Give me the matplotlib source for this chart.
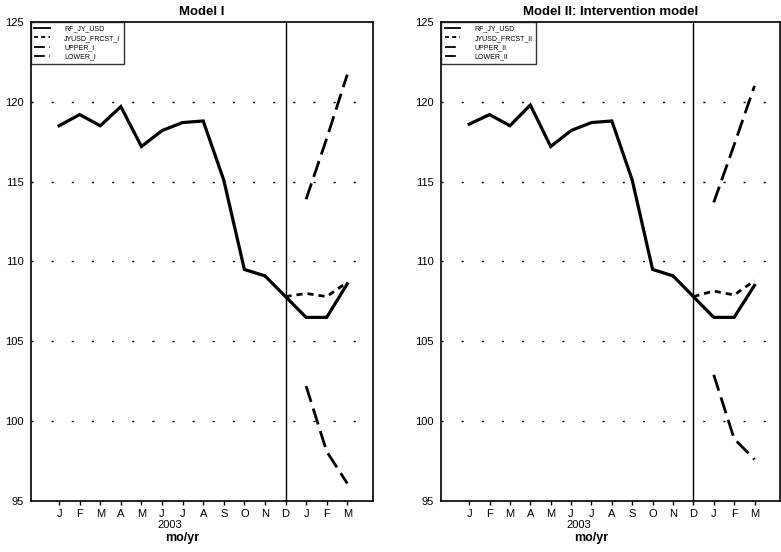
# =================================================================
# 1. import
# =================================================================
import matplotlib
matplotlib.use("Agg")
import matplotlib.pyplot as plt
import matplotlib.transforms as mtransforms

plt.rcParams["font.family"] = ["Liberation Sans", "DejaVu Sans"]

# =================================================================
# 2. data
# =================================================================
month_labels = ["J", "F", "M", "A", "M", "J", "J", "A", "S", "O", "N", "D", "J", "F", "M"]
months = list(range(len(month_labels)))

# actual yen/usd rate, Jan 2003 .. Mar 2004
actual_1 = [118.5, 119.2, 118.5, 119.7, 117.2, 118.2, 118.7, 118.8,
            115.1, 109.5, 109.1, 107.8, 106.5, 106.5, 108.6]
actual_2 = [118.6, 119.2, 118.5, 119.8, 117.2, 118.2, 118.7, 118.8,
            115.1, 109.5, 109.1, 107.8, 106.5, 106.5, 108.5]

# forecast window: D, J, F, M
fc_months = [11, 12, 13, 14]
forecast_1 = [107.8, 108.0, 107.8, 108.7]
forecast_2 = [107.8, 108.15, 107.9, 108.8]

band_months = [12, 13, 14]
upper_1 = [113.9, 117.7, 121.7]
lower_1 = [102.2, 98.1, 96.1]
upper_2 = [113.7, 117.3, 121.0]
lower_2 = [102.9, 98.9, 97.6]

grid_levels = [100, 105, 110, 115, 120]
yticks = [95, 100, 105, 110, 115, 120, 125]

# =================================================================
# 3. plot
# =================================================================
fig = plt.figure(figsize=(7.81, 5.52), dpi=100)
ax1 = fig.add_axes([0.0393, 0.0924, 0.4383, 0.8678])
ax2 = fig.add_axes([0.5647, 0.0924, 0.4340, 0.8678])


def draw_panel(ax, title, actual, forecast, upper, lower, suffix):
    for g in grid_levels:
        ax.axhline(g, color="black", lw=1.0, ls=(0, (1.5, 13)), zorder=1)
    ax.axvline(11, color="black", lw=1.0, zorder=2)

    ax.plot(months, actual, color="black", lw=2.3, solid_joinstyle="miter",
            label="RF_JY_USD", zorder=4)
    ax.plot(fc_months, forecast, color="black", lw=2.0, ls=(0, (2.2, 1.8)),
            label="JYUSD_FRCST_" + suffix, zorder=3)
    ax.plot(band_months, upper, color="black", lw=2.0, ls=(0, (6, 2.5)),
            label="UPPER_" + suffix, zorder=3)
    ax.plot(band_months, lower, color="black", lw=2.0, ls=(0, (6, 2.5)),
            label="LOWER_" + suffix, zorder=3)

    ax.set_xlim(-1.38, 15.25)
    ax.set_ylim(95, 125)
    ax.set_xticks(months)
    ax.set_xticklabels(month_labels, fontsize=8)
    ax.set_yticks(yticks)
    ax.set_yticklabels([str(v) for v in yticks], fontsize=8)
    ax.tick_params(axis="x", direction="out", length=3, width=1, pad=3)
    ax.tick_params(axis="y", direction="in", length=0, pad=5)
    for s in ax.spines.values():
        s.set_linewidth(1.2)

    ax.set_title(title, fontsize=9.5, fontweight="bold", pad=5)

    trans = mtransforms.blended_transform_factory(ax.transData, ax.transAxes)
    ax.text(5.4, -0.040, "2003", transform=trans, ha="center", va="top", fontsize=8)
    ax.text(6.0, -0.064, "mo/yr", transform=trans, ha="center", va="top",
            fontsize=9, fontweight="bold")

    leg = ax.legend(loc="upper left", fontsize=5, frameon=True, fancybox=False,
                    borderaxespad=0.0, handlelength=2.3, labelspacing=0.35,
                    borderpad=0.5, handletextpad=2.0)
    leg.get_frame().set_edgecolor("black")
    leg.get_frame().set_linewidth(1.0)
    for line in leg.get_lines():
        line.set_linewidth(1.3)


draw_panel(ax1, "Model I", actual_1, forecast_1, upper_1, lower_1, "I")
draw_panel(ax2, "Model II: Intervention model", actual_2, forecast_2, upper_2, lower_2, "II")

fig.savefig("out.png", dpi=100)
